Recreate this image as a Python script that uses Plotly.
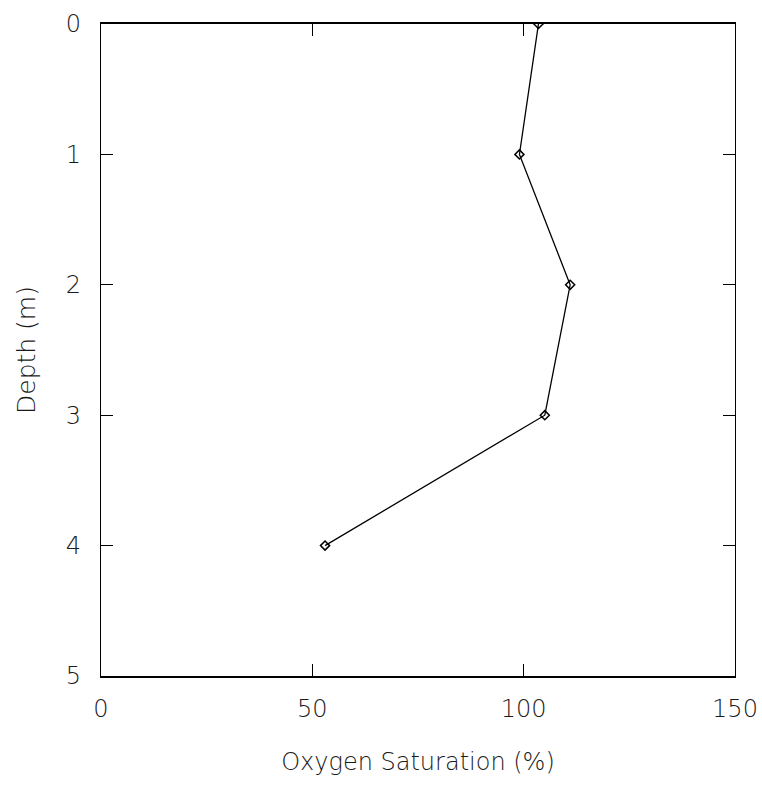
import plotly.graph_objects as go

depth = [0, 1, 2, 3, 4]
oxygen_saturation = [103.5, 99, 111, 105, 53]
x_ticks = [0, 50, 100, 150]
y_ticks = [0, 1, 2, 3, 4, 5]

fig = go.Figure()
fig.add_trace(go.Scatter(
    x=oxygen_saturation, y=depth, mode="lines+markers",
    line=dict(color="black", width=1.3),
    marker=dict(symbol="diamond-open", size=7, color="black", line=dict(width=1.5)),
    showlegend=False,
))

font = dict(family="DejaVu Sans, Liberation Sans, Arial, sans-serif", size=24, color="#1a1a1a", weight=200)
fig.update_layout(
    width=762, height=788,
    margin=dict(l=101, r=27, t=24, b=112),
    paper_bgcolor="white", plot_bgcolor="white",
    font=font,
)
fig.update_xaxes(
    range=[0, 150], tickvals=x_ticks, ticks="inside", ticklen=12, tickwidth=1,
    tickcolor="black", showline=True, linecolor="black", linewidth=1.6,
    mirror="ticks", showgrid=False, zeroline=False, automargin=False,
    title=dict(text="Oxygen Saturation (%)", font=dict(size=24, weight=200), standoff=32),
    ticklabelstandoff=10,
)
fig.update_yaxes(
    range=[5, 0], tickvals=y_ticks, ticks="inside", ticklen=12, tickwidth=1,
    tickcolor="black", showline=True, linecolor="black", linewidth=1.4,
    mirror="ticks", showgrid=False, zeroline=False, automargin=False,
    title=dict(text="Depth (m)", font=dict(size=25, weight=200), standoff=22),
    ticklabelstandoff=14,
)
fig.write_html("out.html")
